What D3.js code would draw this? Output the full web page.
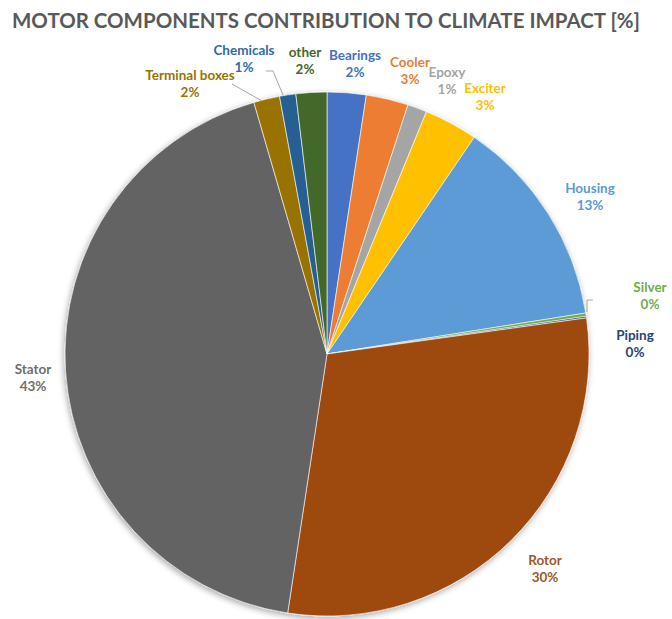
<!DOCTYPE html>
<html>
<head>
<meta charset="utf-8">
<script src="https://cdn.jsdelivr.net/npm/d3@7"></script>
<style>
  html, body { margin: 0; padding: 0; background: #ffffff; }
  svg { display: block; }
  text { font-family: Lato, "Open Sans", sans-serif; font-weight: bold; }
</style>
</head>
<body>
<svg id="chart" width="672" height="619"></svg>
<script>
// ---- data ----
const categories = ["Bearings", "Cooler", "Epoxy", "Exciter", "Housing", "Silver", "Piping", "Rotor", "Stator", "Terminal boxes", "Chemicals", "other"];
const values     = [2.4, 2.6, 1.2, 3.3, 13.0, 0.2, 0.1, 29.6, 43.1, 1.6, 1.0, 1.9];
const percentLabels = ["2%", "3%", "1%", "3%", "13%", "0%", "0%", "30%", "43%", "2%", "1%", "2%"];
const colors     = ["#4472C4", "#ED7D31", "#A5A5A5", "#FFC000", "#5B9BD5", "#70AD47", "#264478", "#9E480E", "#636363", "#997300", "#255E91", "#43682B"];
const labelColors = ["#4472C4", "#ED7D31", "#A5A5A5", "#FFC000", "#5B9BD5", "#70AD47", "#264478", "#A0582A", "#6E6E6E", "#997300", "#2E6BA6", "#43682B"];
const title = "MOTOR COMPONENTS CONTRIBUTION TO CLIMATE IMPACT [%]";

// label anchor positions (center of the two-line label) in px
const labelPos = [
  [355, 55], [410, 62], [447, 72], [485, 88], [590, 188], [650, 287],
  [635, 335], [545, 560], [33, 369], [190, 75], [244, 50], [305, 52]
];

const svg = d3.select("#chart");
const cx = 327, cy = 354, R = 262;

const defs = svg.append("defs");
const f = defs.append("filter").attr("id", "shadow").attr("x", "-10%").attr("y", "-10%").attr("width", "120%").attr("height", "120%");
f.append("feDropShadow").attr("dx", -1).attr("dy", 2).attr("stdDeviation", 3).attr("flood-color", "#000").attr("flood-opacity", 0.35);

svg.append("text")
  .attr("x", 12).attr("y", 28)
  .attr("text-anchor", "start")
  .attr("fill", "#595959")
  .attr("textLength", 628)
  .attr("lengthAdjust", "spacingAndGlyphs")
  .style("font-size", "20.5px")
  .text(title);

const data = categories.map((c, i) => ({ name: c, value: values[i], i }));
const pie = d3.pie().value(d => d.value).sort(null).startAngle(0).endAngle(2 * Math.PI);
const arc = d3.arc().innerRadius(0).outerRadius(R);

const g = svg.append("g").attr("transform", `translate(${cx},${cy})`);
g.append("g").attr("filter", "url(#shadow)")
  .selectAll("path")
  .data(pie(data))
  .join("path")
  .attr("d", arc)
  .attr("fill", d => colors[d.data.i])
  .attr("stroke", "#ffffff")
  .attr("stroke-width", 0.6);

// leader lines
const leaders = [
  [[232, 84], [262, 101]],
  [[266, 71], [273, 71], [283, 95]],
  [[593, 300], [587, 300], [587, 312]]
];
svg.append("g").selectAll("path")
  .data(leaders)
  .join("path")
  .attr("d", d => d3.line()(d))
  .attr("fill", "none")
  .attr("stroke", "#a6a6a6")
  .attr("stroke-width", 1);

// labels
const lab = svg.append("g").selectAll("text")
  .data(data)
  .join("text")
  .attr("text-anchor", "middle")
  .attr("fill", d => labelColors[d.i])
  .style("font-size", "13.5px");
lab.append("tspan")
  .attr("x", d => labelPos[d.i][0]).attr("y", d => labelPos[d.i][1] + 5)
  .text(d => d.name);
lab.append("tspan")
  .attr("x", d => labelPos[d.i][0]).attr("y", d => labelPos[d.i][1] + 22)
  .text(d => percentLabels[d.i]);
</script>
</body>
</html>
